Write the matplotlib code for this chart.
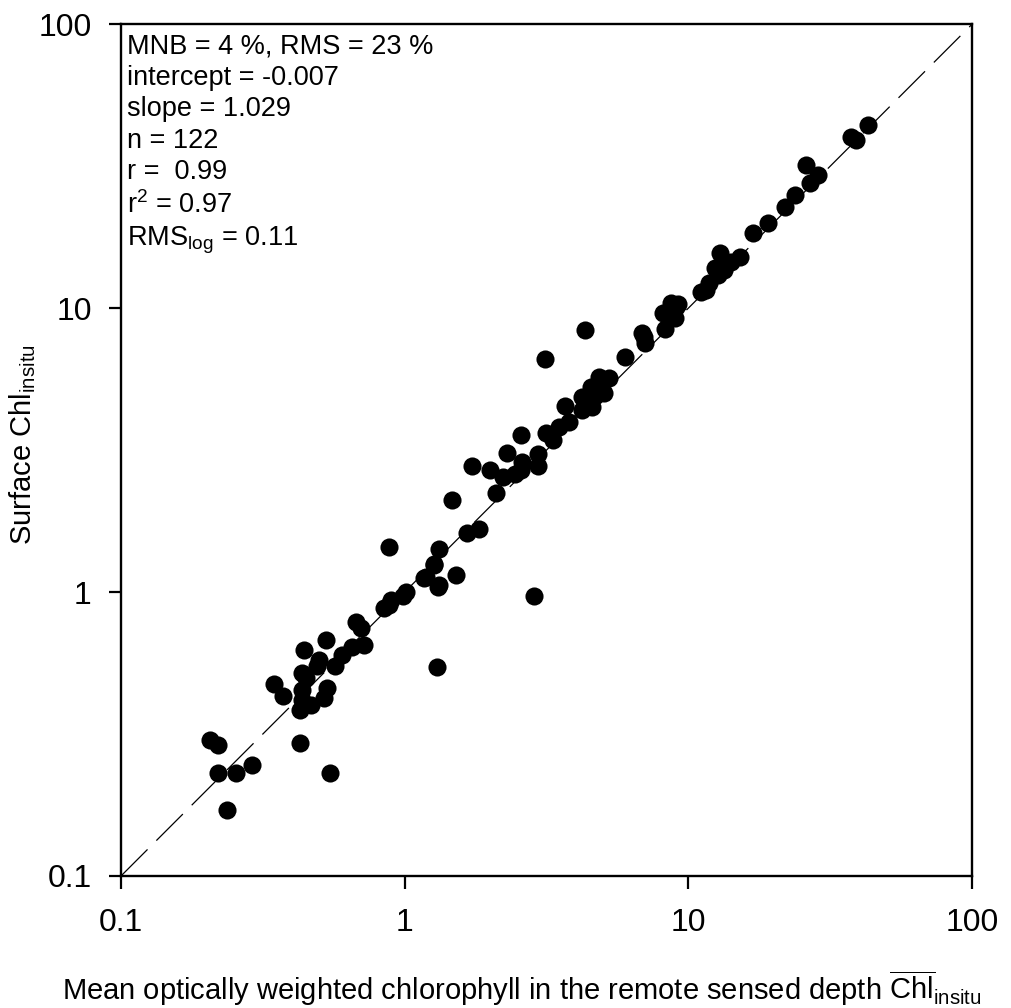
import numpy as np
import matplotlib
matplotlib.use("Agg")
import matplotlib.pyplot as plt
from matplotlib.ticker import FixedLocator, NullLocator

plt.rcParams['font.family'] = ['Liberation Sans', 'DejaVu Sans']
plt.rcParams['mathtext.fontset'] = 'custom'
plt.rcParams['mathtext.rm'] = 'Liberation Sans'
plt.rcParams['mathtext.it'] = 'Liberation Sans:italic'

# mean optically weighted chl (x) vs surface chl (y)
chl_depth = [0.206, 0.219, 0.219, 0.236, 0.254, 0.289, 0.345, 0.371, 0.429, 0.443,
             0.530, 0.433, 0.500, 0.426, 0.469, 0.521, 0.534, 0.433, 0.433, 0.547,
             0.570, 0.603, 0.654, 0.720, 0.676, 0.703, 0.847, 0.897, 1.01, 0.882,
             1.30, 1.17, 1.27, 1.32, 1.32, 1.19, 1.27, 1.52, 1.31, 2.85,
             1.47, 1.66, 1.83, 2.10, 1.73, 2.00, 2.22, 2.29, 2.57, 2.59,
             2.57, 2.95, 2.95, 3.14, 3.33, 3.49, 3.67, 3.79, 4.21, 4.21,
             4.56, 4.53, 5.03, 4.83, 5.24, 3.12, 4.31, 5.96, 6.84, 7.06,
             8.30, 8.51, 9.08, 43.0, 37.4, 38.9, 26.0, 28.6, 26.9, 23.8,
             21.9, 19.1, 16.9, 12.9, 15.2, 14.1, 12.4, 12.7, 11.5, 11.1,
             8.71, 9.22, 8.17, 9.00, 6.95, 0.45, 0.49, 0.44, 0.99, 0.88,
             4.40, 4.70, 2.45, 11.8, 13.3]
chl_surface = [0.301, 0.289, 0.230, 0.171, 0.230, 0.246, 0.474, 0.430, 0.294, 0.625,
               0.678, 0.519, 0.576, 0.384, 0.400, 0.423, 0.459, 0.452, 0.417, 0.230,
               0.549, 0.600, 0.640, 0.651, 0.784, 0.747, 0.878, 0.937, 1.00, 1.44,
               0.545, 1.12, 1.245, 1.06, 1.42, 1.13, 1.26, 1.15, 1.04, 0.968,
               2.11, 1.61, 1.67, 2.23, 2.78, 2.69, 2.54, 3.09, 3.57, 2.87,
               2.69, 3.06, 2.78, 3.63, 3.43, 3.81, 4.52, 3.97, 4.86, 4.37,
               4.48, 5.27, 5.02, 5.72, 5.67, 6.61, 8.37, 6.72, 8.16, 7.53,
               8.43, 9.60, 10.1, 44.1, 40.0, 39.1, 31.9, 29.4, 27.5, 25.0,
               22.7, 19.9, 18.4, 15.6, 15.1, 14.5, 13.9, 13.1, 11.6, 11.4,
               10.4, 10.3, 9.60, 9.22, 7.91, 0.50, 0.55, 0.40, 0.97, 0.90,
               4.60, 4.90, 2.60, 12.3, 13.6]

stats_text = ("MNB = 4 %, RMS = 23 %\n"
              "intercept = -0.007\n"
              "slope = 1.029\n"
              "n = 122\n"
              "r =  0.99\n"
              "r$^{\\mathregular{2}}$ = 0.97\n"
              "RMS$_{\\mathregular{log}}$ = 0.11")

fig = plt.figure(figsize=(10.11, 10.08), dpi=100)
ax = fig.add_axes([0.1197, 0.131, 0.8418, 0.845])

ax.plot([0.1, 100], [0.1, 100], color='black', lw=0.9, dashes=(30, 10))
ax.scatter(chl_depth, chl_surface, s=170, color='black', zorder=3, linewidths=0)

ax.set_xscale('log')
ax.set_yscale('log')
ax.set_xlim(0.1, 100)
ax.set_ylim(0.1, 100)
ticks = [0.1, 1, 10, 100]
ax.xaxis.set_major_locator(FixedLocator(ticks))
ax.yaxis.set_major_locator(FixedLocator(ticks))
ax.xaxis.set_minor_locator(NullLocator())
ax.yaxis.set_minor_locator(NullLocator())
ax.set_xticklabels(['0.1', '1', '10', '100'])
ax.set_yticklabels(['0.1', '1', '10', '100'])
ax.tick_params(direction='out', length=9, width=1.6, labelsize=23)
ax.tick_params(axis='x', pad=14)
ax.tick_params(axis='y', pad=12)
for s in ax.spines.values():
    s.set_linewidth(1.7)

xl = ax.set_xlabel('Mean optically weighted chlorophyll in the remote sensed depth '
                   r'$\overline{\mathregular{Chl}}_{\mathregular{insitu}}$', fontsize=21)
xl.set_ha('left')
xl.set_va('baseline')
ax.xaxis.set_label_coords(-0.0693, -0.1455)
yl = ax.set_ylabel(r'Surface Chl$_{\mathregular{insitu}}$', fontsize=21)
yl.set_rotation_mode('anchor')
yl.set_ha('left')
yl.set_va('center')
ax.yaxis.set_label_coords(-0.116, 0.3885)

ax.text(0.007, 0.989, stats_text, transform=ax.transAxes, ha='left', va='top',
        fontsize=19.5, linespacing=1.27)

fig.savefig('out.png', dpi=100)
